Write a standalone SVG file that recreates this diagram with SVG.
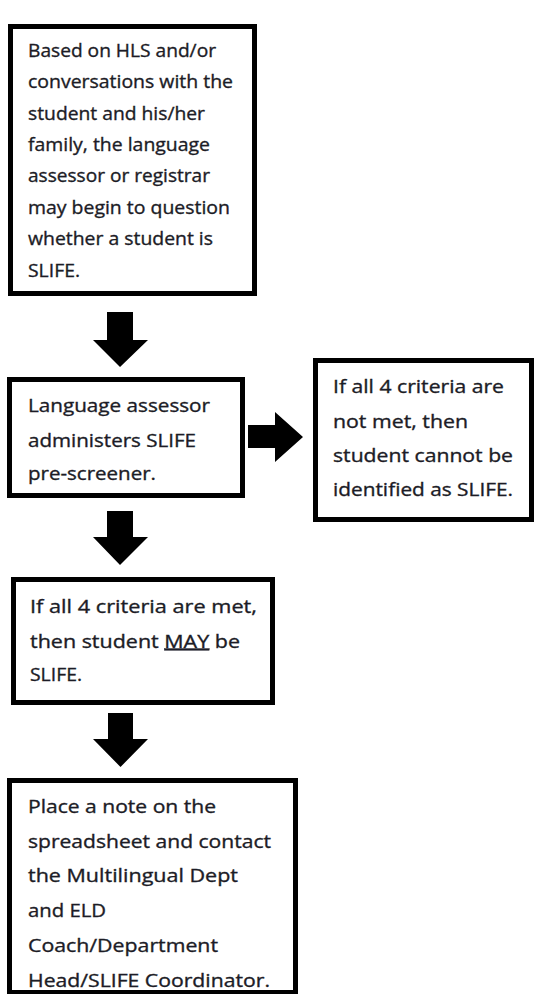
<svg xmlns="http://www.w3.org/2000/svg" width="534" height="994" viewBox="0 0 534 994">
<style>
.box{fill:#fff;stroke:#000;stroke-width:5}
.t{font-family:"Open Sans","Noto Sans",sans-serif;font-size:18.5px;fill:#1c1c26;stroke:#1c1c26;stroke-width:0.35px}
.arr{fill:#000}
.u{text-decoration:underline}
</style>
<rect width="534" height="994" fill="#fff"/>
<g id="connectors">
<polygon class="arr" points="107,312 133,312 133,340 148,340 120,367 93,340 107,340"/>
<polygon class="arr" points="107,511 133,511 133,537 148,537 120,565 93,537 107,537"/>
<polygon class="arr" points="108,713 133,713 133,739 148,739 120.5,767 93,739 108,739"/>
<polygon class="arr" points="248,425 275,425 275,412 303,437 275,462 275,448 248,448"/>
</g>
<g id="node1">
<rect class="box" x="10.5" y="26.5" width="244" height="267"/>
<text class="t" lengthAdjust="spacingAndGlyphs" x="28" y="57" textLength="188">Based on HLS and/or</text>
<text class="t" lengthAdjust="spacingAndGlyphs" x="28" y="88.3" textLength="205">conversations with the</text>
<text class="t" lengthAdjust="spacingAndGlyphs" x="28" y="119.6" textLength="177">student and his/her</text>
<text class="t" lengthAdjust="spacingAndGlyphs" x="28" y="150.9" textLength="182">family, the language</text>
<text class="t" lengthAdjust="spacingAndGlyphs" x="28" y="182.2" textLength="182">assessor or registrar</text>
<text class="t" lengthAdjust="spacingAndGlyphs" x="28" y="213.5" textLength="202">may begin to question</text>
<text class="t" lengthAdjust="spacingAndGlyphs" x="28" y="244.8" textLength="185">whether a student is</text>
<text class="t" lengthAdjust="spacingAndGlyphs" x="28" y="276.5" textLength="52">SLIFE.</text>
</g>
<g id="node2">
<rect class="box" x="9.5" y="379.5" width="233" height="116"/>
<text class="t" lengthAdjust="spacingAndGlyphs" x="28" y="411.7" textLength="182">Language assessor</text>
<text class="t" lengthAdjust="spacingAndGlyphs" x="28" y="446.5" textLength="168">administers SLIFE</text>
<text class="t" lengthAdjust="spacingAndGlyphs" x="28" y="480" textLength="128">pre-screener.</text>
</g>
<g id="node3">
<rect class="box" x="315.5" y="360.5" width="216" height="159"/>
<text class="t" lengthAdjust="spacingAndGlyphs" x="333" y="393" textLength="171">If all 4 criteria are</text>
<text class="t" lengthAdjust="spacingAndGlyphs" x="333" y="428" textLength="135">not met, then</text>
<text class="t" lengthAdjust="spacingAndGlyphs" x="333" y="462" textLength="180">student cannot be</text>
<text class="t" lengthAdjust="spacingAndGlyphs" x="333" y="495.5" textLength="180">identified as SLIFE.</text>
</g>
<g id="node4">
<rect class="box" x="13.5" y="579.5" width="259" height="123"/>
<text class="t" lengthAdjust="spacingAndGlyphs" x="30" y="612.7" textLength="227">If all 4 criteria are met,</text>
<text class="t" lengthAdjust="spacingAndGlyphs" x="30" y="647.5" textLength="210">then student <tspan class="u">MAY</tspan> be</text>
<text class="t" lengthAdjust="spacingAndGlyphs" x="30" y="680.5" textLength="52">SLIFE.</text>
</g>
<g id="node5">
<rect class="box" x="9.5" y="780.5" width="286" height="212"/>
<text class="t" lengthAdjust="spacingAndGlyphs" x="28" y="813.3" textLength="188">Place a note on the</text>
<text class="t" lengthAdjust="spacingAndGlyphs" x="28" y="848.2" textLength="243">spreadsheet and contact</text>
<text class="t" lengthAdjust="spacingAndGlyphs" x="28" y="882" textLength="210">the Multilingual Dept</text>
<text class="t" lengthAdjust="spacingAndGlyphs" x="28" y="916.8" textLength="78">and ELD</text>
<text class="t" lengthAdjust="spacingAndGlyphs" x="28" y="951.6" textLength="190">Coach/Department</text>
<text class="t" lengthAdjust="spacingAndGlyphs" x="28" y="986.5" textLength="242">Head/SLIFE Coordinator.</text>
</g>
</svg>
